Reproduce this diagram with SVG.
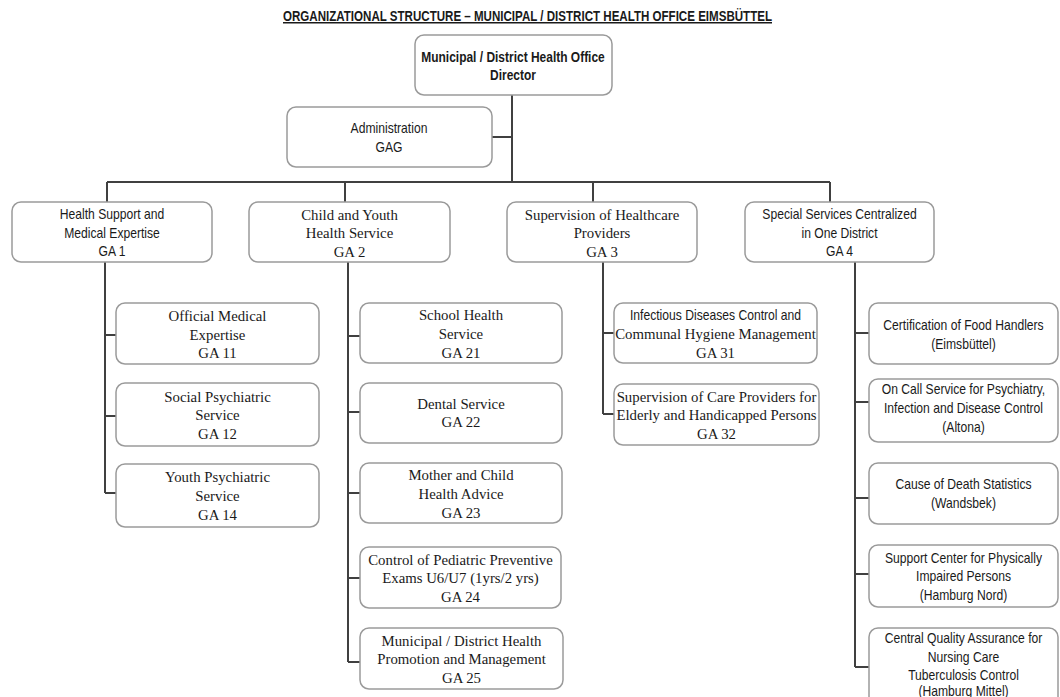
<svg xmlns="http://www.w3.org/2000/svg" width="1060" height="697" viewBox="0 0 1060 697">
<style>
.box{fill:#fff;stroke:#9a9a9a;stroke-width:1.5}
.ln{fill:none;stroke:#404040;stroke-width:2}
text{fill:#1a1a1a;text-anchor:middle}
.s{font-family:"Liberation Sans",Arial,sans-serif;font-size:14.8px}
.r{font-family:"Liberation Serif","Times New Roman",serif;font-size:14.8px}
.b{font-family:"Liberation Sans",Arial,sans-serif;font-size:14.6px;font-weight:bold}
.t{font-family:"Liberation Sans",Arial,sans-serif;font-size:15px;font-weight:bold;text-decoration:underline;text-anchor:start}
</style>
<text class="t" x="283" y="21" textLength="489" lengthAdjust="spacingAndGlyphs">ORGANIZATIONAL STRUCTURE –  MUNICIPAL / DISTRICT HEALTH OFFICE EIMSBÜTTEL</text>
<g id="connectors">
<path class="ln" d="M512 95V182M492 137H512M107 182H830M107 182V202M345 182V202M593 182V202M830 182V202"/>
<path class="ln" d="M105 262V493M105 335H116M105 416H116M105 493H116"/>
<path class="ln" d="M348 262V662M348 336H360M348 412H360M348 493H360M348 578H360M348 662H360"/>
<path class="ln" d="M603 262V414M603 333H614M603 414H614"/>
<path class="ln" d="M855 262V667M855 333H869M855 402H869M855 498H869M855 574H869M855 667H869"/>
</g>
<g id="director"><rect class="box" x="415" y="35" width="197" height="60" rx="9"/><text class="b" transform="translate(513 0) scale(0.82 1)"><tspan x="0" y="62">Municipal / District Health Office</tspan><tspan x="0" y="80">Director</tspan></text></g>
<g id="admin"><rect class="box" x="287" y="107" width="205" height="60" rx="9"/><text class="s" transform="translate(389 0) scale(0.82 1)"><tspan x="0" y="133.5">Administration</tspan><tspan x="0" y="152">GAG</tspan></text></g>
<g id="ga1"><rect class="box" x="12" y="202" width="200" height="60" rx="9"/><text class="s" transform="translate(112 0) scale(0.82 1)"><tspan x="0" y="219.5">Health Support and</tspan><tspan x="0" y="238">Medical Expertise</tspan><tspan x="0" y="256.5">GA 1</tspan></text></g>
<g id="ga2"><rect class="box" x="249" y="202" width="201" height="60" rx="9"/><text class="r"><tspan x="349.5" y="219.5">Child and Youth</tspan><tspan x="349.5" y="238">Health Service</tspan><tspan x="349.5" y="256.5">GA 2</tspan></text></g>
<g id="ga3"><rect class="box" x="507" y="202" width="190" height="60" rx="9"/><text class="r"><tspan x="602" y="219.5">Supervision of Healthcare</tspan><tspan x="602" y="238">Providers</tspan><tspan x="602" y="256.5">GA 3</tspan></text></g>
<g id="ga4"><rect class="box" x="745" y="202" width="189" height="60" rx="9"/><text class="s" transform="translate(839.5 0) scale(0.82 1)"><tspan x="0" y="219.5">Special Services Centralized</tspan><tspan x="0" y="238">in One District</tspan><tspan x="0" y="256.5">GA 4</tspan></text></g>
<g id="ga11"><rect class="box" x="116" y="303" width="203" height="61" rx="9"/><text class="r"><tspan x="217.5" y="320.5">Official Medical</tspan><tspan x="217.5" y="339.5">Expertise</tspan><tspan x="217.5" y="358">GA 11</tspan></text></g>
<g id="ga12"><rect class="box" x="116" y="383" width="203" height="63" rx="9"/><text class="r"><tspan x="217.5" y="401.5">Social Psychiatric</tspan><tspan x="217.5" y="420">Service</tspan><tspan x="217.5" y="439">GA 12</tspan></text></g>
<g id="ga14"><rect class="box" x="116" y="464" width="203" height="63" rx="9"/><text class="r"><tspan x="217.5" y="482">Youth Psychiatric</tspan><tspan x="217.5" y="501">Service</tspan><tspan x="217.5" y="519.5">GA 14</tspan></text></g>
<g id="ga21"><rect class="box" x="360" y="303" width="202" height="60" rx="9"/><text class="r"><tspan x="461" y="320">School Health</tspan><tspan x="461" y="339">Service</tspan><tspan x="461" y="357.5">GA 21</tspan></text></g>
<g id="ga22"><rect class="box" x="360" y="383" width="202" height="60" rx="9"/><text class="r"><tspan x="461" y="408.5">Dental Service</tspan><tspan x="461" y="427">GA 22</tspan></text></g>
<g id="ga23"><rect class="box" x="360" y="463" width="202" height="60" rx="9"/><text class="r"><tspan x="461" y="480">Mother and Child</tspan><tspan x="461" y="499">Health Advice</tspan><tspan x="461" y="517.5">GA 23</tspan></text></g>
<g id="ga24"><rect class="box" x="360" y="547" width="201" height="61" rx="9"/><text class="r"><tspan x="460.5" y="564.5">Control of Pediatric Preventive</tspan><tspan x="460.5" y="583">Exams U6/U7 (1yrs/2 yrs)</tspan><tspan x="460.5" y="602">GA 24</tspan></text></g>
<g id="ga25"><rect class="box" x="360" y="628" width="203" height="61" rx="9"/><text class="r"><tspan x="461.5" y="645.5">Municipal / District Health</tspan><tspan x="461.5" y="664">Promotion and Management</tspan><tspan x="461.5" y="683">GA 25</tspan></text></g>
<g id="ga31"><rect class="box" x="614" y="303" width="203" height="60" rx="9"/><text class="s" transform="translate(715.5 0) scale(0.82 1)"><tspan x="0" y="320">Infectious Diseases Control and</tspan></text><text class="r"><tspan x="715.5" y="339">Communal Hygiene Management</tspan><tspan x="715.5" y="357.5">GA 31</tspan></text></g>
<g id="ga32"><rect class="box" x="614" y="384" width="205" height="61" rx="9"/><text class="r"><tspan x="716.5" y="401.5">Supervision of Care Providers for</tspan><tspan x="716.5" y="420">Elderly and Handicapped Persons</tspan><tspan x="716.5" y="439">GA 32</tspan></text></g>
<g id="food"><rect class="box" x="869" y="303" width="189" height="61" rx="9"/><text class="s" transform="translate(963.5 0) scale(0.82 1)"><tspan x="0" y="330">Certification of Food Handlers</tspan><tspan x="0" y="349">(Eimsbüttel)</tspan></text></g>
<g id="oncall"><rect class="box" x="869" y="379" width="189" height="63" rx="9"/><text class="s" transform="translate(963.5 0) scale(0.82 1)"><tspan x="0" y="394.5">On Call Service for Psychiatry,</tspan><tspan x="0" y="413.5">Infection and Disease Control</tspan><tspan x="0" y="432">(Altona)</tspan></text></g>
<g id="death"><rect class="box" x="869" y="463" width="189" height="61" rx="9"/><text class="s" transform="translate(963.5 0) scale(0.82 1)"><tspan x="0" y="489.5">Cause of Death Statistics</tspan><tspan x="0" y="508">(Wandsbek)</tspan></text></g>
<g id="support"><rect class="box" x="869" y="545" width="189" height="62" rx="9"/><text class="s" transform="translate(963.5 0) scale(0.82 1)"><tspan x="0" y="563">Support Center for Physically</tspan><tspan x="0" y="581.5">Impaired Persons</tspan><tspan x="0" y="600">(Hamburg Nord)</tspan></text></g>
<g id="central"><rect class="box" x="869" y="628" width="189" height="82" rx="9"/><text class="s" transform="translate(963.5 0) scale(0.82 1)"><tspan x="0" y="643.5">Central Quality Assurance for</tspan><tspan x="0" y="662">Nursing Care</tspan><tspan x="0" y="680.5">Tuberculosis Control</tspan><tspan x="0" y="696">(Hamburg Mittel)</tspan></text></g>
</svg>
